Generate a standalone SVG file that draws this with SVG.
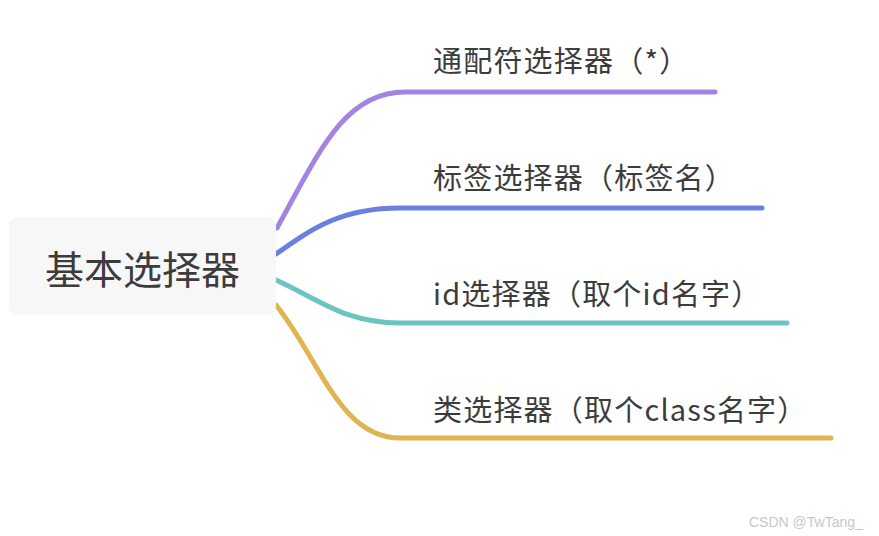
<svg xmlns="http://www.w3.org/2000/svg" width="879" height="536" viewBox="0 0 879 536">
<style>
.t{font-family:"Noto Sans CJK SC","Noto Sans",sans-serif;fill:#3c3c3c;}
.lbl{font-size:29px;letter-spacing:1.2px;}
.root{font-size:39px;}
.br{fill:none;stroke-width:5;stroke-linecap:round;}
.wm{font-family:"Liberation Sans",Arial,sans-serif;font-size:14px;fill:#c8c8c8;}
</style>
<rect width="879" height="536" fill="#ffffff"/>
<g id="connectors">
<path class="br" stroke="#a384e2" d="M277,228 C320,150 345,92 405,92 H715"/>
<path class="br" stroke="#6b80dc" d="M276,254 C310,230 340,208 400,208 H762"/>
<path class="br" stroke="#6cc4c1" d="M276,280 C320,300 345,323 400,323 H787"/>
<path class="br" stroke="#e1b452" d="M276,305 C320,360 340,438 400,438 H831"/>
</g>
<g id="root">
<rect x="9" y="217" width="267" height="98" rx="9" fill="#f7f7f7"/>
<text class="t root" x="142.5" y="284" text-anchor="middle">基本选择器</text>
</g>
<g id="n1"><text class="t lbl" x="433" y="72">通配符选择器（*）</text></g>
<g id="n2"><text class="t lbl" x="433" y="189">标签选择器（标签名）</text></g>
<g id="n3"><text class="t lbl" x="433" y="305">id选择器（取个id名字）</text></g>
<g id="n4"><text class="t lbl" x="433" y="421">类选择器（取个class名字）</text></g>
<text class="wm" x="749" y="527">CSDN @TwTang_</text>
</svg>
